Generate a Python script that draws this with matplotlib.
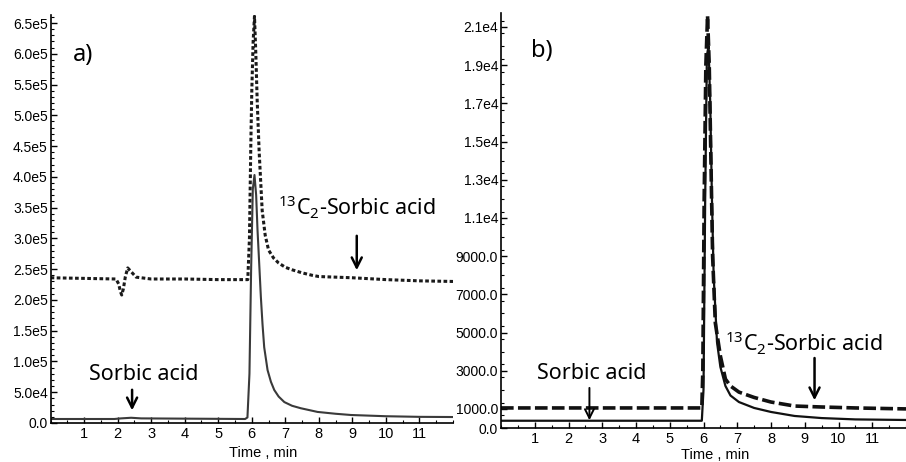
import matplotlib
matplotlib.use("Agg")
import matplotlib.pyplot as plt
from matplotlib.ticker import FixedLocator, MultipleLocator, FuncFormatter

plt.rcParams['mathtext.fontset'] = 'custom'
plt.rcParams['mathtext.rm'] = 'Noto Sans'
plt.rcParams['mathtext.it'] = 'Noto Sans'

# ---------------- data: panel a ----------------
a_low_t = [0.0, 1.9, 2.1, 2.4, 2.7, 5.8, 5.87, 5.93, 5.98, 6.03, 6.08, 6.13, 6.17, 6.22,
           6.27, 6.32, 6.37, 6.47, 6.57, 6.67, 6.8, 6.97, 7.2, 7.46, 7.96, 8.5, 8.96,
           10.0, 11.0, 12.0]
a_low_v = [6500, 6500, 7500, 8500, 7500, 6500, 9000, 80000, 250000, 380000, 403000,
           370000, 314000, 260000, 205000, 160000, 123000, 86000, 67000, 53600, 43000,
           34000, 28000, 24000, 18000, 15000, 13000, 11000, 10000, 9700]

a_up_t = [0.0, 1.0, 1.95, 2.03, 2.08, 2.12, 2.17, 2.23, 2.3, 2.4, 2.55, 3.0, 4.0, 5.0,
          5.88, 5.93, 5.97, 6.0, 6.04, 6.08, 6.12, 6.16, 6.22, 6.31, 6.4, 6.5, 6.65,
          6.8, 7.0, 7.2, 7.5, 7.8, 8.0, 9.0, 10.0, 11.0, 12.0]
a_up_v = [236000, 235000, 234000, 226000, 214000, 208000, 218000, 238000, 252000,
          246000, 237000, 234000, 234000, 233000, 233000, 300000, 450000, 540000,
          620000, 661000, 600000, 525000, 440000, 345000, 305000, 281000, 268000,
          260000, 253000, 249000, 244000, 240000, 238000, 236000, 233000, 231000, 230000]

a_yticks = [0, 50000, 100000, 150000, 200000, 250000, 300000, 350000, 400000,
            450000, 500000, 550000, 600000, 650000]

# ---------------- data: panel b ----------------
b_low_t = [0.0, 5.95, 6.0, 6.05, 6.1, 6.15, 6.2, 6.25, 6.3, 6.4, 6.5, 6.65, 6.8, 7.05,
           7.5, 8.0, 8.7, 9.5, 10.5, 12.0]
b_low_v = [380, 380, 2000, 12000, 19500, 20000, 17000, 12000, 8000, 4500, 3200, 2200,
           1700, 1360, 1050, 840, 630, 520, 450, 420]

b_up_t = [0.0, 5.95, 5.98, 6.02, 6.07, 6.12, 6.17, 6.22, 6.27, 6.35, 6.5, 6.65, 6.8,
          7.05, 7.5, 8.0, 8.7, 9.5, 10.5, 12.0]
b_up_v = [1050, 1050, 3000, 12000, 19000, 21600, 19000, 14000, 9000, 5500, 3775, 2560,
          2200, 1880, 1600, 1360, 1150, 1100, 1050, 1000]

b_yticks = [0, 1000, 3000, 5000, 7000, 9000, 11000, 13000, 15000, 17000, 19000, 21000]

x_ticks = [1, 2, 3, 4, 5, 6, 7, 8, 9, 10, 11]

label_font = 'Noto Sans'
tick_font = 'Liberation Sans'


def fmt_a(v, pos):
    if v == 0:
        return '0.0'
    if v < 100000:
        return f'{v/1e4:.1f}e4'
    return f'{v/1e5:.1f}e5'


def fmt_b(v, pos):
    if v >= 10000:
        return f'{v/1e4:.1f}e4'
    return f'{v:.1f}'


fig = plt.figure(figsize=(9.06, 4.62), dpi=100)

axa = fig.add_axes([50.6/906, (462-423)/462, (453-50.6)/906, (423-15)/462])
axb = fig.add_axes([501/906, (462-428)/462, (906-501)/906, (428-13)/462])

for ax in (axa, axb):
    ax.spines['top'].set_visible(False)
    ax.spines['right'].set_visible(False)
    ax.spines['left'].set_linewidth(1.2)
    ax.spines['bottom'].set_linewidth(1.2)
    ax.set_xlim(0, 12)
    ax.xaxis.set_major_locator(FixedLocator(x_ticks))
    ax.xaxis.set_minor_locator(MultipleLocator(0.5))
    ax.tick_params(axis='x', which='major', direction='in', length=4, width=1, pad=3,
                   labelsize=10.5)
    ax.tick_params(axis='x', which='minor', direction='in', length=2, width=0.8)
    ax.tick_params(axis='y', which='major', direction='in', length=4, width=1, pad=2,
                   labelsize=10)
    ax.tick_params(axis='y', which='minor', direction='in', length=2, width=0.8)
    for lab in ax.get_xticklabels() + ax.get_yticklabels():
        lab.set_fontfamily(tick_font)
    ax.set_xlabel('Time , min', fontsize=10.5, fontfamily=tick_font)

axa.xaxis.set_label_coords(0.528, -0.056)
axb.xaxis.set_label_coords(0.528, -0.047)

# panel a
axa.set_ylim(0, 663000)
axa.yaxis.set_major_locator(FixedLocator(a_yticks))
axa.yaxis.set_minor_locator(MultipleLocator(10000))
axa.yaxis.set_major_formatter(FuncFormatter(fmt_a))
for lab in axa.get_yticklabels():
    lab.set_fontfamily(tick_font)
axa.plot(a_up_t, a_up_v, color='#1a1a1a', lw=2.2, linestyle=(0, (1.2, 0.8)))
axa.plot(a_low_t, a_low_v, color='#3a3a3a', lw=1.5)

axa.text(0.98, 598000, 'a)', fontsize=17, fontfamily=label_font, ha='center', va='center')
axa.text(2.77, 78000, 'Sorbic acid', fontsize=15.5, fontfamily=label_font,
         ha='center', va='center')
axa.annotate('', xy=(2.43, 16000), xytext=(2.43, 58500),
             arrowprops=dict(arrowstyle='->', lw=1.8, color='black', mutation_scale=18))
axa.text(9.12, 350000, r'$^{13}$C$_{2}$-Sorbic acid', fontsize=15.5,
         fontfamily=label_font, ha='center', va='center')
axa.annotate('', xy=(9.13, 243700), xytext=(9.13, 308700),
             arrowprops=dict(arrowstyle='->', lw=1.8, color='black', mutation_scale=18))

# panel b
axb.set_ylim(0, 21733)
axb.yaxis.set_major_locator(FixedLocator(b_yticks))
axb.yaxis.set_minor_locator(MultipleLocator(2000/3))
axb.yaxis.set_major_formatter(FuncFormatter(fmt_b))
for lab in axb.get_yticklabels():
    lab.set_fontfamily(tick_font)
axb.plot(b_low_t, b_low_v, color='#111111', lw=1.6)
axb.plot(b_up_t, b_up_v, color='#111111', lw=2.6, linestyle=(0, (3.5, 1.2)))

axb.text(1.22, 19740, 'b)', fontsize=17, fontfamily=label_font, ha='center', va='center')
axb.text(2.69, 2870, 'Sorbic acid', fontsize=15.5, fontfamily=label_font,
         ha='center', va='center')
axb.annotate('', xy=(2.62, 260), xytext=(2.62, 2245),
             arrowprops=dict(arrowstyle='->', lw=1.4, color='black', mutation_scale=16))
axb.text(8.98, 4440, r'$^{13}$C$_{2}$-Sorbic acid', fontsize=15.5,
         fontfamily=label_font, ha='center', va='center')
axb.annotate('', xy=(9.29, 1305), xytext=(9.29, 3810),
             arrowprops=dict(arrowstyle='->', lw=1.8, color='black', mutation_scale=18))

fig.savefig('out.png', dpi=100)
